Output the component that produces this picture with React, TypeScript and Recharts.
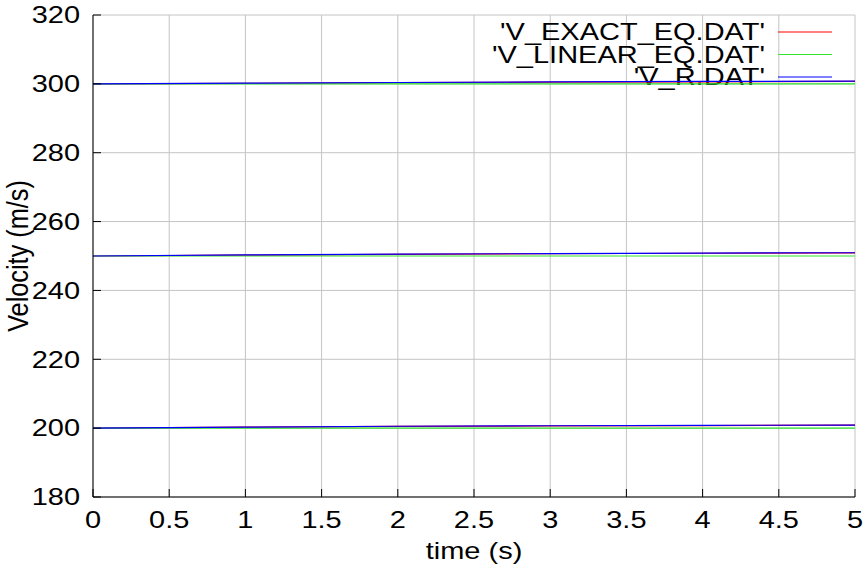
import { LineChart, Line, XAxis, YAxis, CartesianGrid, Customized } from 'recharts';

// time samples (s)
const times = [0, 1, 2, 3, 4, 5];

// velocity (m/s), one block per initial speed
const exact200 = [200, 200.3, 200.5, 200.65, 200.75, 200.85];
const linear200 = [200, 200, 200, 200, 200, 200];
const r200 = [200, 200.3, 200.55, 200.7, 200.8, 200.9];

const exact250 = [250, 250.25, 250.5, 250.65, 250.8, 250.9];
const linear250 = [250, 250, 250, 250, 250, 250];
const r250 = [250, 250.3, 250.55, 250.7, 250.85, 250.95];

const exact300 = [300, 300.15, 300.35, 300.5, 300.6, 300.7];
const linear300 = [300, 300, 300, 300, 300, 300];
const r300 = [300, 300.2, 300.4, 300.55, 300.7, 300.8];

const xTicks = [0, 0.5, 1, 1.5, 2, 2.5, 3, 3.5, 4, 4.5, 5];
const yTicks = [180, 200, 220, 240, 260, 280, 300, 320];

const seriesNames = ["'V_EXACT_EQ.DAT'", "'V_LINEAR_EQ.DAT'", "'V_R.DAT'"];
const seriesColors = ['#ff0000', '#33e633', '#0000ff'];
const seriesPrefix = ['e', 'l', 'r'];
const groups = [200, 250, 300];

const rows = times.map((t, i) => ({
  t,
  e200: exact200[i],
  l200: linear200[i],
  r200: r200[i],
  e250: exact250[i],
  l250: linear250[i],
  r250: r250[i],
  e300: exact300[i],
  l300: linear300[i],
  r300: r300[i],
}));

const W = 865;
const H = 568;
const LEFT = 93;
const RIGHT = 855;
const TOP = 15;
const BOTTOM = 497;

const FONT = '"Liberation Sans", Arial, Helvetica, sans-serif';
const FS = 23;
const SX = 1.26;

function Wide({ x, y, anchor, dy, children }: any) {
  return (
    <g transform={`translate(${x},${y}) scale(${SX},1)`}>
      <text x={0} y={0} dy={dy} textAnchor={anchor} fontFamily={FONT} fontSize={FS} fill="#000">
        {children}
      </text>
    </g>
  );
}

const XTick = (props: any) => (
  <Wide x={props.x} y={props.y} anchor="middle" dy="0.71em">
    {props.payload.value}
  </Wide>
);

const YTick = (props: any) => (
  <Wide x={props.x} y={props.y} anchor="end" dy="0.36em">
    {props.payload.value}
  </Wide>
);

const NoTick = () => <g />;

const Decorations = () => (
  <g>
    {seriesNames.map((name, i) => {
      const cy = 32 + i * 22.5;
      return (
        <g key={name}>
          <Wide x={765} y={cy} anchor="end" dy="0.36em">
            {name}
          </Wide>
          <line x1={778} x2={832} y1={cy} y2={cy} stroke={seriesColors[i]} strokeWidth={1.2} />
        </g>
      );
    })}
    <Wide x={(LEFT + RIGHT) / 2} y={551} anchor="middle" dy="0.36em">
      time (s)
    </Wide>
    <g transform={`translate(18,${(TOP + BOTTOM) / 2}) rotate(-90) scale(1.1,1.26)`}>
      <text x={0} y={0} dy="0.36em" textAnchor="middle" fontFamily={FONT} fontSize={FS} fill="#000">
        Velocity (m/s)
      </text>
    </g>
  </g>
);

export default function App() {
  return (
    <div style={{ position: 'absolute', left: 0, top: 0, width: W, height: H, background: '#fff' }}>
      <LineChart
        width={W}
        height={H}
        data={rows}
        margin={{ top: TOP, right: W - RIGHT, bottom: 0, left: 0 }}
      >
        <CartesianGrid stroke="#c4c4c4" strokeWidth={1} />
        <XAxis
          dataKey="t"
          type="number"
          domain={[0, 5]}
          allowDataOverflow
          ticks={xTicks}
          interval={0}
          height={H - BOTTOM}
          stroke="#000"
          tickSize={-8}
          tickMargin={23}
          tick={XTick}
        />
        <XAxis
          xAxisId="top"
          orientation="top"
          dataKey="t"
          type="number"
          domain={[0, 5]}
          allowDataOverflow
          ticks={xTicks}
          interval={0}
          height={0}
          stroke="#000"
          tickSize={-8}
          tick={NoTick}
        />
        <YAxis
          type="number"
          domain={[180, 320]}
          allowDataOverflow
          ticks={yTicks}
          interval={0}
          width={LEFT}
          stroke="#000"
          tickSize={-8}
          tickMargin={21}
          tick={YTick}
        />
        <YAxis
          yAxisId="right"
          orientation="right"
          type="number"
          domain={[180, 320]}
          allowDataOverflow
          ticks={yTicks}
          interval={0}
          width={0}
          stroke="#000"
          tickSize={-8}
          tick={NoTick}
        />
        {groups.map((g) =>
          seriesPrefix.map((p, i) => (
            <Line
              key={`${p}${g}`}
              type="linear"
              dataKey={`${p}${g}`}
              stroke={seriesColors[i]}
              strokeWidth={1.2}
              dot={false}
              isAnimationActive={false}
            />
          ))
        )}
        <Customized component={Decorations} />
      </LineChart>
    </div>
  );
}
